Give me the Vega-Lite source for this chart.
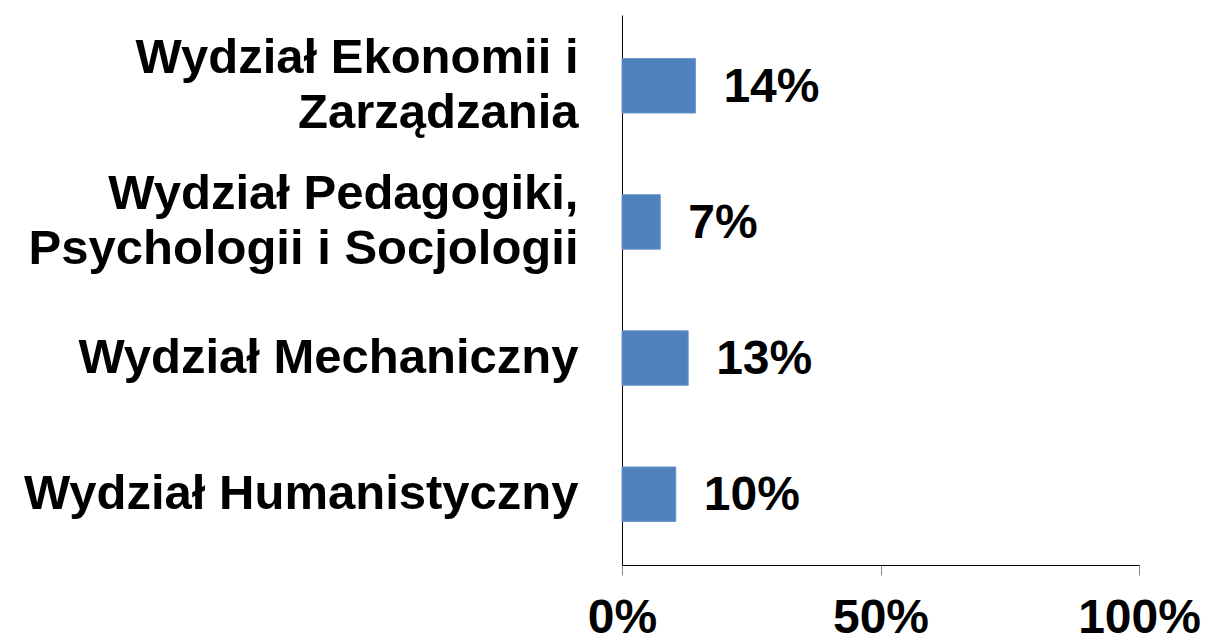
{
  "$schema": "https://vega.github.io/schema/vega-lite/v6.json",
  "autosize": "none",
  "width": 517,
  "height": 550,
  "padding": {"left": 622, "top": 15, "right": 66, "bottom": 77},
  "background": "white",
  "config": {"view": {"stroke": null}, "font": "Liberation Sans"},
  "data": {
    "values": [
      {"wydzial": "Wydział Ekonomii i\nZarządzania", "udzial": 0.142},
      {"wydzial": "Wydział Pedagogiki,\nPsychologii i Socjologii", "udzial": 0.074},
      {"wydzial": "Wydział Mechaniczny", "udzial": 0.128},
      {"wydzial": "Wydział Humanistyczny", "udzial": 0.104}
    ]
  },
  "encoding": {
    "y": {
      "field": "wydzial",
      "type": "nominal",
      "sort": null,
      "title": null,
      "scale": {"paddingInner": 0.6, "paddingOuter": 0.32},
      "axis": {
        "ticks": false,
        "domainColor": "black",
        "domainWidth": 1,
        "labelExpr": "split(datum.value, '\\n')",
        "labelFont": "Liberation Sans",
        "labelFontSize": 49,
        "labelFontWeight": "bold",
        "labelColor": "black",
        "labelAlign": "right",
        "labelBaseline": "middle",
        "labelLineHeight": 55,
        "labelPadding": 44,
        "labelLimit": 0,
        "labelOffset": {"condition": {"test": "datum.value == 'Wydział Mechaniczny' || datum.value == 'Wydział Humanistyczny'", "value": 0}, "value": -28}
      }
    },
    "x": {
      "field": "udzial",
      "type": "quantitative",
      "title": null,
      "scale": {"domain": [0, 1], "nice": false},
      "axis": {
        "values": [0, 0.5, 1],
        "format": ".0%",
        "grid": false,
        "domainColor": "black",
        "tickColor": "#888888",
        "tickSize": 10,
        "labelFont": "Liberation Sans",
        "labelFontSize": 48,
        "labelFontWeight": "bold",
        "labelColor": "black",
        "labelPadding": 19,
        "labelFlush": false,
        "labelOverlap": false
      }
    }
  },
  "layer": [
    {"mark": {"type": "bar", "color": "#4F81BD", "stroke": "#6A96CC", "strokeWidth": 1}},
    {
      "mark": {"type": "text", "align": "left", "baseline": "middle", "dx": 28, "dy": 2, "font": "Liberation Sans", "fontSize": 48, "fontWeight": "bold", "color": "black"},
      "encoding": {"text": {"field": "udzial", "type": "quantitative", "format": ".0%"}}
    }
  ]
}
